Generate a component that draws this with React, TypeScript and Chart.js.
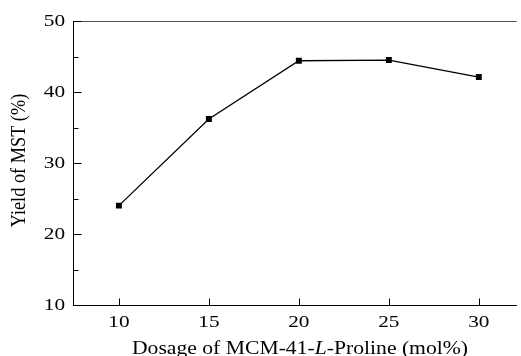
import React, { useEffect, useRef } from "react";
import { Chart, registerables } from "chart.js";

Chart.register(...registerables);

const dosage = [10, 15, 20, 25, 30];
const yieldMST = [24.0, 36.2, 44.4, 44.5, 42.1];
const xTickValues = [10, 15, 20, 25, 30];
const yTickValues = [10, 20, 30, 40, 50];
const yMinorTickValues = [15, 25, 35, 45];
const xTitleParts = [
  { text: "Dosage of MCM-41-", italic: false },
  { text: "L", italic: true },
  { text: "-Proline (mol%)", italic: false },
];
const yTitle = "Yield of MST (%)";

const FONT = "'Liberation Serif', 'Times New Roman', serif";

const decorPlugin = {
  id: "decor",
  afterDraw(chart: any) {
    const { ctx, chartArea: a, scales } = chart;
    const x = scales.x;
    const y = scales.y;
    ctx.save();
    ctx.lineWidth = 1;
    ctx.strokeStyle = "#000";
    const line = (x1: number, y1: number, x2: number, y2: number, c = "#000") => {
      ctx.strokeStyle = c;
      ctx.beginPath();
      ctx.moveTo(x1, y1);
      ctx.lineTo(x2, y2);
      ctx.stroke();
    };
    const L = Math.round(a.left) + 0.5;
    const B = Math.round(a.bottom) + 0.5;
    const T = Math.round(a.top) + 0.5;
    line(L, T, a.right, T, "#555");
    line(L, T - 0.5, L, B + 0.5);
    line(L - 0.5, B, a.right, B);
    yTickValues.forEach((v) => {
      const py = Math.round(y.getPixelForValue(v)) + 0.5;
      line(L, py, L + 8, py);
    });
    yMinorTickValues.forEach((v) => {
      const py = Math.round(y.getPixelForValue(v)) + 0.5;
      line(L, py, L + 5, py);
    });
    xTickValues.forEach((v) => {
      const px = Math.round(x.getPixelForValue(v)) + 0.5;
      line(px, B, px, B - 7);
    });

    ctx.fillStyle = "#000";
    // tick labels
    const tsx = 1.25;
    ctx.font = `17px ${FONT}`;
    ctx.textBaseline = "alphabetic";
    yTickValues.forEach((v) => {
      const py = y.getPixelForValue(v);
      ctx.save();
      ctx.translate(65, py + 4.5);
      ctx.scale(tsx, 1);
      ctx.textAlign = "right";
      ctx.fillText(String(v), 0, 0);
      ctx.restore();
    });
    xTickValues.forEach((v) => {
      const px = x.getPixelForValue(v);
      ctx.save();
      ctx.translate(px, 327);
      ctx.scale(tsx, 1);
      ctx.textAlign = "center";
      ctx.fillText(String(v), 0, 0);
      ctx.restore();
    });

    // x title
    const sx = 1.17;
    const fs = 18.5;
    ctx.textAlign = "left";
    const widths = xTitleParts.map((p) => {
      ctx.font = `${p.italic ? "italic " : ""}${fs}px ${FONT}`;
      return ctx.measureText(p.text).width;
    });
    const total = widths.reduce((s, w) => s + w, 0);
    ctx.save();
    ctx.translate(300, 354);
    ctx.scale(sx, 1);
    let cx = -total / 2;
    xTitleParts.forEach((p, i) => {
      ctx.font = `${p.italic ? "italic " : ""}${fs}px ${FONT}`;
      ctx.fillText(p.text, cx, 0);
      cx += widths[i];
    });
    ctx.restore();

    // y title
    ctx.save();
    ctx.translate(25, 160.5);
    ctx.scale(1.2, 1);
    ctx.rotate(-Math.PI / 2);
    ctx.font = `18.3px ${FONT}`;
    ctx.textAlign = "center";
    ctx.fillText(yTitle, 0, 0);
    ctx.restore();

    ctx.restore();
  },
};

export default function App() {
  const ref = useRef<HTMLCanvasElement>(null);
  useEffect(() => {
    if (!ref.current) return;
    const chart = new Chart(ref.current, {
      type: "line",
      data: {
        datasets: [
          {
            data: dosage.map((d, i) => ({ x: d, y: yieldMST[i] })),
            borderColor: "#000",
            backgroundColor: "#000",
            borderWidth: 1.3,
            pointStyle: "rect",
            pointRadius: 4.2,
            pointBorderWidth: 0,
            pointBackgroundColor: "#000",
            tension: 0,
            fill: false,
          },
        ],
      },
      options: {
        responsive: false,
        animation: false,
        events: [],
        layout: { padding: { top: 21, right: 0, left: 0, bottom: 0 } },
        plugins: { legend: { display: false }, tooltip: { enabled: false } },
        scales: {
          x: {
            type: "linear",
            min: 7.45,
            max: 32.11,
            grid: { display: false },
            border: { display: false },
            ticks: { display: false },
            afterBuildTicks: (s: any) => {
              s.ticks = xTickValues.map((v) => ({ value: v }));
            },
            afterFit: (s: any) => {
              s.height = 51;
            },
          },
          y: {
            type: "linear",
            min: 10,
            max: 50,
            grid: { display: false },
            border: { display: false },
            ticks: { display: false },
            afterBuildTicks: (s: any) => {
              s.ticks = yTickValues.map((v) => ({ value: v }));
            },
            afterFit: (s: any) => {
              s.width = 73;
            },
          },
        },
      } as any,
      plugins: [decorPlugin],
    });
    return () => chart.destroy();
  }, []);
  return (
    <div style={{ position: "absolute", left: 0, top: 0, width: 521, height: 356, background: "#fff" }}>
      <canvas ref={ref} width={521} height={356} style={{ display: "block" }} />
    </div>
  );
}
